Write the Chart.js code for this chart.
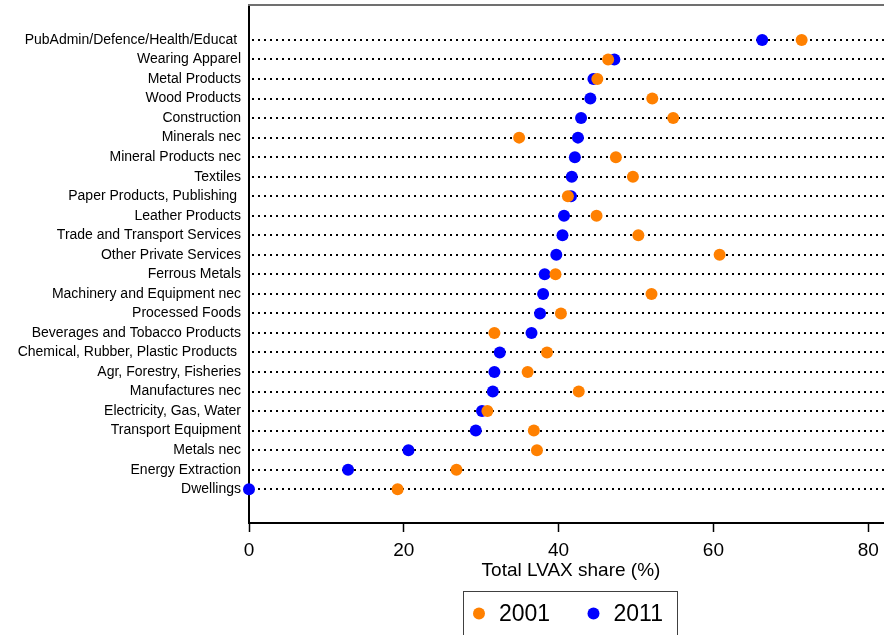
<!DOCTYPE html>
<html>
<head>
<meta charset="utf-8">
<script src="https://cdn.jsdelivr.net/npm/chart.js@4/dist/chart.umd.min.js"></script>
<style>
  html, body { margin: 0; padding: 0; overflow: hidden; background: #fff; }
  canvas { display: block; }
</style>
</head>
<body>
<!-- the plotting area runs a little past the right and bottom edges of the window -->
<canvas id="chart" width="893" height="640"></canvas>
<script>
// Sectors, listed top to bottom
const sectors = [
  "PubAdmin/Defence/Health/Educat ",
  "Wearing Apparel",
  "Metal Products",
  "Wood Products",
  "Construction",
  "Minerals nec",
  "Mineral Products nec",
  "Textiles",
  "Paper Products, Publishing ",
  "Leather Products",
  "Trade and Transport Services",
  "Other Private Services",
  "Ferrous Metals",
  "Machinery and Equipment nec",
  "Processed Foods",
  "Beverages and Tobacco Products",
  "Chemical, Rubber, Plastic Products ",
  "Agr, Forestry, Fisheries",
  "Manufactures nec",
  "Electricity, Gas, Water",
  "Transport Equipment",
  "Metals nec",
  "Energy Extraction",
  "Dwellings"
];

// Total LVAX share (%) by year
const share2001 = [71.4, 46.4, 45.0, 52.1, 54.8, 34.9, 47.4, 49.6, 41.2, 44.9, 50.3, 60.8,
                   39.6, 52.0, 40.3, 31.7, 38.5, 36.0, 42.6, 30.8, 36.8, 37.2, 26.8, 19.2];
const share2011 = [66.3, 47.2, 44.5, 44.1, 42.9, 42.5, 42.1, 41.7, 41.6, 40.7, 40.5, 39.7,
                   38.2, 38.0, 37.6, 36.5, 32.4, 31.7, 31.5, 30.1, 29.3, 20.6, 12.8, 0.0];

const years = ["2001", "2011"];
const xTicks = [0, 20, 40, 60, 80];
const axisTitle = "Total LVAX share (%)";

const FONT = '"Liberation Sans", Arial, sans-serif';
const ORANGE = "#FF8000";
const BLUE = "#0000FF";

const toPoints = vals => vals.map((v, i) => ({ x: v, y: i }));

// Keep the plotting area exactly where the axis boxes put it
const noScalePadding = s => {
  s.paddingTop = 0; s.paddingBottom = 0; s.paddingLeft = 0; s.paddingRight = 0;
};

// Grey frame line along the top of the plotting area
const topFrame = {
  id: "topFrame",
  afterDraw(chart) {
    const { ctx, chartArea } = chart;
    ctx.save();
    ctx.strokeStyle = "#707070";
    ctx.lineWidth = 2;
    ctx.beginPath();
    ctx.moveTo(chartArea.left - 1, chartArea.top);
    ctx.lineTo(chartArea.right, chartArea.top);
    ctx.stroke();
    ctx.restore();
  }
};

// Boxed legend under the axis title
const boxLegend = {
  id: "boxLegend",
  afterDraw(chart) {
    const { ctx } = chart;
    const ds = chart.data.datasets;
    ctx.save();
    ctx.strokeStyle = "#404040";
    ctx.lineWidth = 1;
    ctx.strokeRect(463.5, 591.5, 214, 60);
    const itemX = [479, 593.5];
    ctx.font = "23px " + FONT;
    ctx.textBaseline = "middle";
    ctx.textAlign = "left";
    ds.forEach((d, i) => {
      ctx.fillStyle = d.backgroundColor;
      ctx.beginPath();
      ctx.arc(itemX[i], 613.5, 6, 0, Math.PI * 2);
      ctx.fill();
      ctx.fillStyle = "#000";
      ctx.fillText(d.label, itemX[i] + 20, 615);
    });
    ctx.restore();
  }
};

new Chart(document.getElementById("chart"), {
  type: "scatter",
  data: {
    datasets: [
      { label: years[0], data: toPoints(share2001), backgroundColor: ORANGE, borderWidth: 0,
        pointRadius: 6, pointHoverRadius: 6, clip: false },
      { label: years[1], data: toPoints(share2011), backgroundColor: BLUE, borderWidth: 0,
        pointRadius: 6, pointHoverRadius: 6, clip: false }
    ]
  },
  options: {
    responsive: false,
    animation: false,
    layout: { autoPadding: false, padding: { top: 5, left: 0, right: 0, bottom: 0 } },
    plugins: { legend: { display: false }, tooltip: { enabled: false } },
    scales: {
      x: {
        type: "linear",
        position: "bottom",
        min: 0,
        max: 83.2,
        afterBuildTicks: s => { s.ticks = xTicks.map(v => ({ value: v })); },
        afterFit: s => { s.height = 117; noScalePadding(s); },
        ticks: { color: "#000", font: { family: FONT, size: 19 }, padding: 7, includeBounds: false },
        grid: { drawOnChartArea: false, drawTicks: true, tickLength: 9, tickColor: "#000", tickWidth: 1.5 },
        border: { display: true, color: "#000", width: 2 },
        title: { display: true, text: axisTitle, color: "#000",
                 font: { family: FONT, size: 19 }, padding: { top: 0, bottom: 58 } }
      },
      y: {
        type: "linear",
        position: "left",
        reverse: true,
        min: -1.79,
        max: 24.73,
        afterBuildTicks: s => { s.ticks = sectors.map((_, i) => ({ value: i })); },
        afterFit: s => { s.width = 249; noScalePadding(s); },
        ticks: {
          autoSkip: false,
          color: "#000",
          font: { family: FONT, size: 14 },
          padding: 8,
          callback: v => sectors[v] ?? ""
        },
        grid: { color: "#000", lineWidth: 2, drawTicks: false },
        border: { display: true, color: "#000", width: 2, dash: [2, 4], dashOffset: 4 }
      }
    }
  },
  plugins: [topFrame, boxLegend]
});
</script>
</body>
</html>
